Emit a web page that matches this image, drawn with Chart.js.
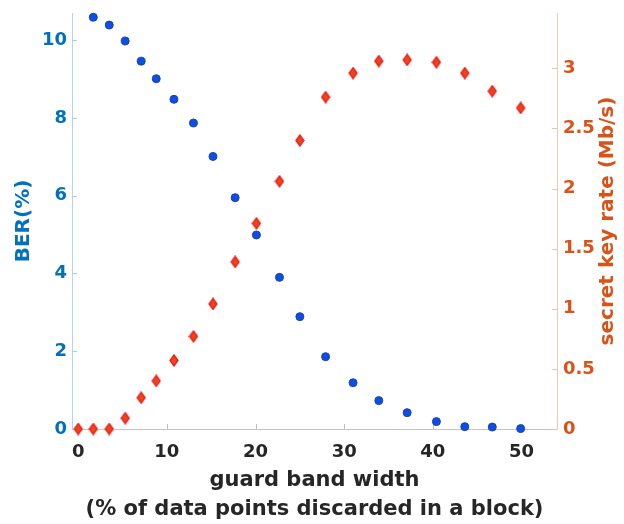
<!DOCTYPE html>
<html>
<head>
<meta charset="utf-8">
<script src="https://cdn.jsdelivr.net/npm/chart.js@4/dist/chart.umd.min.js"></script>
<style>
  html, body { margin: 0; padding: 0; background: #ffffff; }
  #wrap { width: 624px; height: 524px; }
</style>
</head>
<body>
<div id="wrap"><canvas id="c" width="624" height="524"></canvas></div>
<script>
// ---- data ----
const guardBand = [0, 1.7, 3.5, 5.3, 7.1, 8.8, 10.8, 13.0, 15.2, 17.7, 20.1, 22.7, 25.0, 27.9, 31.0, 33.9, 37.1, 40.4, 43.6, 46.7, 49.9];
const berValues = [null, 10.59, 10.39, 9.98, 9.46, 9.01, 8.48, 7.87, 7.01, 5.95, 4.99, 3.90, 2.89, 1.86, 1.19, 0.73, 0.42, 0.19, 0.06, 0.05, 0.01];
const keyRateValues = [0, 0, 0, 0.09, 0.26, 0.40, 0.57, 0.77, 1.04, 1.39, 1.71, 2.06, 2.40, 2.76, 2.96, 3.06, 3.07, 3.05, 2.96, 2.81, 2.67];

const xTicks = [0, 10, 20, 30, 40, 50];
const berTicks = [0, 2, 4, 6, 8, 10];
const rateTicks = [0, 0.5, 1, 1.5, 2, 2.5, 3];

const xTitle = ['guard band width', '(% of data points discarded in a block)'];
const berTitle = 'BER(%)';
const rateTitle = 'secret key rate (Mb/s)';

// ---- styles ----
const FONT = "'DejaVu Sans', 'Liberation Sans', Arial, sans-serif";
const BLUE_AX = '#0072BD';
const ORANGE_AX = '#D95319';
const DARK = '#262626';

function makeDiamond() {
  const w = 10, h = 13;
  const cv = document.createElement('canvas');
  cv.width = w; cv.height = h;
  const g = cv.getContext('2d');
  g.beginPath();
  g.moveTo(w / 2, 1);
  g.lineTo(w - 1, h / 2);
  g.lineTo(w / 2, h - 1);
  g.lineTo(1, h / 2);
  g.closePath();
  g.fillStyle = '#e8461c';
  g.fill();
  g.lineWidth = 1.3;
  g.strokeStyle = '#f41a1a';
  g.stroke();
  return cv;
}

const toPts = (xs, ys) => xs.map((x, i) => ({ x: x, y: ys[i] })).filter(p => p.y !== null);

const innerTicks = {
  id: 'innerTicks',
  beforeDatasetsDraw(chart) {
    const ctx = chart.ctx;
    const sx = chart.scales.x, sl = chart.scales.yBer, sr = chart.scales.yRate;
    ctx.save();
    ctx.lineWidth = 1;
    ctx.strokeStyle = '#bdbdbd';
    sx.ticks.forEach(t => {
      const px = Math.round(sx.getPixelForValue(t.value)) + 0.5;
      ctx.beginPath(); ctx.moveTo(px, sx.top); ctx.lineTo(px, sx.top - 5); ctx.stroke();
    });
    ctx.strokeStyle = '#a9cdee';
    sl.ticks.forEach(t => {
      const py = Math.round(sl.getPixelForValue(t.value)) + 0.5;
      ctx.beginPath(); ctx.moveTo(sl.right, py); ctx.lineTo(sl.right + 5, py); ctx.stroke();
    });
    ctx.strokeStyle = '#f3c1aa';
    sr.ticks.forEach(t => {
      const py = Math.round(sr.getPixelForValue(t.value)) + 0.5;
      ctx.beginPath(); ctx.moveTo(sr.left, py); ctx.lineTo(sr.left - 5, py); ctx.stroke();
    });
    ctx.restore();
  }
};

// right axis title reads bottom-to-top (like the left one)
const rightTitle = {
  id: 'rightTitle',
  afterDraw(chart) {
    const ctx = chart.ctx;
    const sr = chart.scales.yRate;
    ctx.save();
    ctx.translate(sr.right - 16, (sr.top + sr.bottom) / 2);
    ctx.rotate(-Math.PI / 2);
    ctx.font = 'bold 20px ' + FONT;
    ctx.fillStyle = ORANGE_AX;
    ctx.textAlign = 'center';
    ctx.textBaseline = 'middle';
    ctx.fillText(rateTitle, 0, 0);
    ctx.restore();
  }
};

new Chart(document.getElementById('c'), {
  type: 'scatter',
  data: {
    datasets: [
      {
        label: 'BER',
        data: toPts(guardBand, berValues),
        yAxisID: 'yBer',
        pointStyle: 'circle',
        pointRadius: 4,
        pointBackgroundColor: '#0b50e2',
        pointBorderColor: '#1d3fb4',
        pointBorderWidth: 1,
        clip: false
      },
      {
        label: 'secret key rate',
        data: toPts(guardBand, keyRateValues),
        yAxisID: 'yRate',
        pointStyle: makeDiamond(),
        pointRadius: 6,
        clip: false
      }
    ]
  },
  options: {
    responsive: false,
    animation: false,
    devicePixelRatio: 1,
    layout: { padding: { top: 13, left: 0, right: 0, bottom: 0 } },
    plugins: { legend: { display: false }, tooltip: { enabled: false } },
    scales: {
      x: {
        type: 'linear',
        min: -0.7,
        max: 54,
        afterBuildTicks: s => { s.ticks = xTicks.map(v => ({ value: v })); },
        afterFit: s => { s.height = 95; s.paddingLeft = 0; s.paddingRight = 0; },
        grid: { display: true, drawOnChartArea: false, drawTicks: false },
        border: { display: true, color: '#c4c4c4', width: 1 },
        ticks: {
          color: DARK,
          font: { family: FONT, size: 18, weight: 'bold' },
          padding: 13,
          maxRotation: 0,
          callback: v => String(v)
        },
        title: {
          display: true,
          text: xTitle,
          color: DARK,
          font: { family: FONT, size: 21, weight: 'bold', lineHeight: 1.38 },
          padding: { top: 0, bottom: 0 }
        }
      },
      yBer: {
        type: 'linear',
        position: 'left',
        min: 0,
        max: 10.7,
        afterBuildTicks: s => { s.ticks = berTicks.map(v => ({ value: v })); },
        afterFit: s => { s.width = 72; s.paddingTop = 0; s.paddingBottom = 0; },
        grid: { display: true, drawOnChartArea: false, drawTicks: false },
        border: { display: true, color: '#b3d4f0', width: 1 },
        ticks: {
          color: BLUE_AX,
          font: { family: FONT, size: 18, weight: 'bold' },
          padding: 5,
          callback: v => String(v)
        },
        title: {
          display: true,
          text: berTitle,
          color: BLUE_AX,
          font: { family: FONT, size: 20, weight: 'bold', lineHeight: 1.2 },
          padding: { top: 12, bottom: 0 }
        }
      },
      yRate: {
        type: 'linear',
        position: 'right',
        min: 0,
        max: 3.46,
        afterBuildTicks: s => { s.ticks = rateTicks.map(v => ({ value: v })); },
        afterFit: s => { s.width = 67; s.paddingTop = 0; s.paddingBottom = 0; },
        grid: { display: true, drawOnChartArea: false, drawTicks: false },
        border: { display: true, color: '#f5c8b3', width: 1 },
        ticks: {
          color: ORANGE_AX,
          font: { family: FONT, size: 18, weight: 'bold' },
          padding: 6,
          callback: v => String(v)
        },
        title: { display: false, text: rateTitle }
      }
    }
  },
  plugins: [innerTicks, rightTitle]
});
</script>
</body>
</html>
